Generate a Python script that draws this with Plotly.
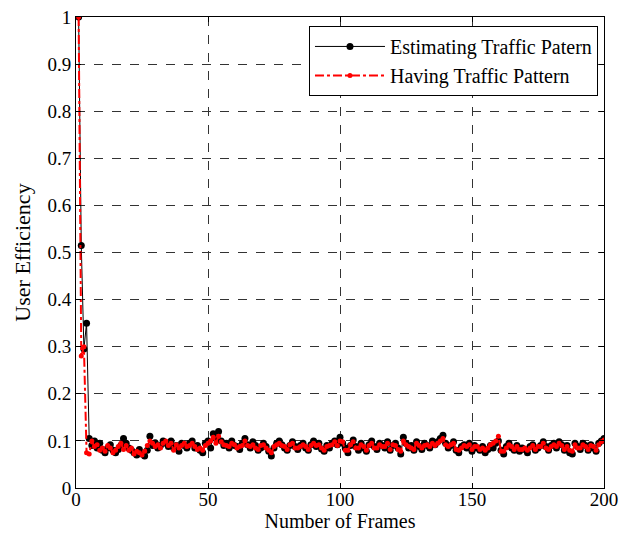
import plotly.graph_objects as go

frames = list(range(1, 201))

est_head = [1.0, 0.515, 0.295, 0.35]
est_tail = [
    0.105,0.090,0.100,0.085,0.095,0.080,0.075,0.085,0.092,0.080,0.075,0.082,0.090,0.105,0.095,0.085,0.080,0.075,0.070,0.082,
    0.072,0.068,0.080,0.110,0.090,0.096,0.085,0.090,0.100,0.095,0.088,0.100,0.085,0.090,0.078,0.095,0.090,0.085,0.095,0.100,
    0.085,0.090,0.080,0.075,0.095,0.100,0.085,0.115,0.105,0.120,0.100,0.090,0.095,0.085,0.100,0.090,0.088,0.082,0.095,0.105,
    0.092,0.085,0.098,0.090,0.080,0.085,0.095,0.088,0.078,0.068,0.085,0.095,0.100,0.092,0.085,0.080,0.090,0.098,0.088,0.082,
    0.090,0.095,0.085,0.080,0.092,0.100,0.088,0.095,0.083,0.078,0.090,0.085,0.095,0.100,0.092,0.108,0.095,0.085,0.075,0.090,
    0.102,0.088,0.080,0.095,0.085,0.078,0.092,0.100,0.088,0.082,0.095,0.090,0.085,0.098,0.080,0.090,0.095,0.085,0.072,0.108,
    0.095,0.085,0.090,0.080,0.098,0.088,0.082,0.095,0.090,0.085,0.100,0.092,0.098,0.105,0.112,0.095,0.085,0.090,0.098,0.080,
    0.075,0.088,0.092,0.085,0.095,0.078,0.090,0.085,0.080,0.088,0.075,0.082,0.090,0.085,0.095,0.100,0.080,0.072,0.088,0.095,
    0.085,0.080,0.090,0.078,0.085,0.082,0.075,0.088,0.092,0.080,0.085,0.090,0.098,0.088,0.080,0.090,0.095,0.085,0.098,0.092,
    0.080,0.090,0.075,0.072,0.095,0.088,0.082,0.095,0.090,0.080,0.092,0.085,0.078,0.095,0.100,0.105,
]
estimating = est_head + est_tail

have_head = [1.0, 0.28, 0.30, 0.075]
have_tail = [
    0.072,0.100,0.088,0.092,0.080,0.085,0.078,0.090,0.085,0.075,0.080,0.088,0.095,0.082,0.090,0.080,0.085,0.072,0.078,0.075,
    0.070,0.078,0.090,0.100,0.095,0.088,0.092,0.085,0.095,0.100,0.090,0.095,0.080,0.092,0.085,0.090,0.095,0.088,0.090,0.095,
    0.088,0.082,0.085,0.080,0.090,0.095,0.100,0.108,0.095,0.110,0.098,0.092,0.090,0.088,0.095,0.092,0.085,0.088,0.090,0.100,
    0.090,0.088,0.092,0.085,0.082,0.090,0.092,0.085,0.080,0.075,0.088,0.092,0.095,0.090,0.088,0.082,0.092,0.095,0.085,0.085,
    0.088,0.092,0.088,0.082,0.090,0.095,0.090,0.092,0.085,0.080,0.088,0.090,0.092,0.098,0.090,0.100,0.098,0.080,0.080,0.092,
    0.098,0.085,0.085,0.092,0.088,0.080,0.090,0.095,0.085,0.085,0.092,0.088,0.088,0.095,0.082,0.092,0.090,0.082,0.078,0.100,
    0.092,0.088,0.085,0.082,0.095,0.090,0.085,0.090,0.092,0.088,0.095,0.090,0.095,0.100,0.105,0.092,0.088,0.092,0.095,0.082,
    0.080,0.085,0.090,0.088,0.092,0.082,0.088,0.088,0.082,0.085,0.080,0.085,0.092,0.095,0.100,0.110,0.078,0.078,0.085,0.092,
    0.088,0.082,0.088,0.082,0.082,0.085,0.080,0.085,0.090,0.082,0.088,0.088,0.095,0.085,0.082,0.088,0.092,0.088,0.095,0.090,
    0.082,0.088,0.080,0.078,0.092,0.085,0.085,0.092,0.088,0.082,0.090,0.088,0.080,0.092,0.098,0.102,
]
having = have_head + have_tail

x_ticks = [0, 50, 100, 150, 200]
y_ticks = [0, 0.1, 0.2, 0.3, 0.4, 0.5, 0.6, 0.7, 0.8, 0.9, 1]

FONT = "Liberation Serif"

fig = go.Figure()
fig.add_trace(go.Scatter(
    x=frames, y=estimating, mode="lines+markers",
    name="Estimating Traffic Patern",
    line=dict(color="black", width=1),
    marker=dict(color="black", size=7),
))
fig.add_trace(go.Scatter(
    x=frames, y=having, mode="lines+markers",
    name="Having Traffic Pattern",
    line=dict(color="red", width=2, dash="dashdot"),
    marker=dict(color="red", size=5),
))

axis_common = dict(
    showline=True, linecolor="black", linewidth=1, mirror="ticks",
    ticks="inside", ticklen=5, tickcolor="black",
    showgrid=True, gridcolor="#333333", griddash="dash", gridwidth=1,
    zeroline=False, automargin=False, ticklabeloverflow="allow",
    tickfont=dict(family=FONT, size=19, color="black"),
)

fig.update_layout(
    width=624, height=531,
    margin=dict(l=68, r=28, t=9, b=51),
    paper_bgcolor="white", plot_bgcolor="white",
    font=dict(family=FONT, color="black"),
    showlegend=True,
    legend=dict(
        x=0.9886, y=0.981, xanchor="right", yanchor="top",
        bordercolor="black", borderwidth=1, bgcolor="white",
        font=dict(family=FONT, size=20, color="black"),
        tracegroupgap=0, itemwidth=70,
    ),
)
fig.update_xaxes(
    range=[0, 200], tickvals=x_ticks,
    ticklabelstandoff=-6,
    title=dict(text="Number of Frames", font=dict(family=FONT, size=20, color="black"), standoff=3),
    **axis_common,
)
fig.update_yaxes(
    range=[0, 1], tickvals=y_ticks,
    title=dict(text="User Efficiency", font=dict(family=FONT, size=22, color="black"), standoff=10),
    **axis_common,
)

fig.write_html("out.html")
